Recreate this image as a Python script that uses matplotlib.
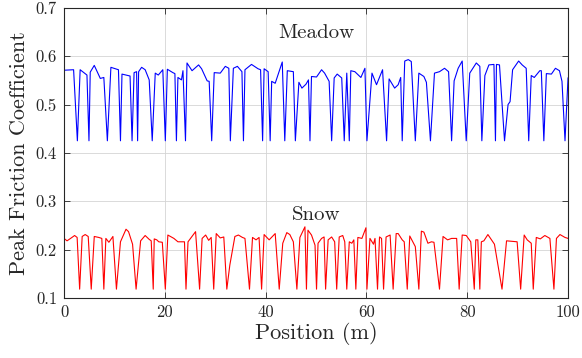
import matplotlib
matplotlib.use('Agg')
import matplotlib.pyplot as plt
import numpy as np

plt.rcParams['font.family'] = ['cmr10', 'DejaVu Serif']
plt.rcParams['mathtext.fontset'] = 'cm'
plt.rcParams['axes.unicode_minus'] = False
plt.rcParams['axes.formatter.use_mathtext'] = True

# meadow trace (position m, peak friction coefficient)
meadow_x = [0, 1.9, 2.65, 3.2, 4.55, 4.95, 5.2, 6.0, 7.2, 7.9, 8.6, 9.3, 10.8, 11.2, 11.5,
            13.1, 13.5, 13.9, 14.4, 14.6, 14.8, 15.4, 16.1, 16.9, 17.5, 18.1, 18.7, 19.6,
            20.1, 20.5, 21.6, 22.0, 22.3, 22.6, 23.3, 23.6, 24.1, 24.4, 25.4, 26.7, 27.3,
            28.4, 28.8, 29.3, 29.8, 31.0, 32.0, 32.7, 33.0, 33.6, 34.4, 35.3, 35.6, 35.9,
            37.2, 38.5, 39.0, 39.4, 39.7, 40.5, 40.9, 41.2, 41.9, 43.3, 43.8, 44.3, 45.5,
            45.9, 46.6, 47.2, 48.0, 48.5, 48.8, 49.1, 50.1, 51.1, 51.7, 52.6, 53.1, 53.6,
            54.2, 55.1, 55.6, 56.1, 56.6, 56.9, 57.7, 58.9, 59.7, 60.1, 61.1, 62.0, 63.2,
            64.0, 64.5, 65.6, 66.3, 66.8, 67.1, 67.6, 68.3, 68.9, 69.7, 70.4, 71.4, 71.9,
            72.7, 73.5, 74.5, 75.5, 76.3, 76.9, 77.4, 78.2, 79.0, 79.8, 80.5, 81.8, 82.5,
            82.9, 83.5, 84.3, 85.3, 85.6, 85.8, 86.4, 87.4, 88.1, 88.5, 89.0, 90.2, 90.9,
            91.7, 92.2, 92.7, 93.3, 94.4, 94.7, 95.2, 95.7, 96.7, 97.5, 98.3, 98.8, 99.4, 100.0]
meadow_y = [0.571, 0.572, 0.425, 0.572, 0.561, 0.425, 0.567, 0.581, 0.554, 0.556, 0.425, 0.577, 0.572, 0.425, 0.563,
            0.559, 0.425, 0.566, 0.568, 0.425, 0.568, 0.577, 0.572, 0.551, 0.425, 0.565, 0.561, 0.572,
            0.425, 0.573, 0.566, 0.564, 0.425, 0.556, 0.551, 0.570, 0.425, 0.586, 0.570, 0.582, 0.574,
            0.549, 0.548, 0.425, 0.566, 0.565, 0.579, 0.575, 0.425, 0.575, 0.579, 0.568, 0.425, 0.572,
            0.583, 0.574, 0.572, 0.425, 0.574, 0.568, 0.425, 0.548, 0.544, 0.588, 0.425, 0.570, 0.568,
            0.425, 0.546, 0.534, 0.542, 0.551, 0.425, 0.558, 0.557, 0.572, 0.565, 0.548, 0.425, 0.555,
            0.563, 0.555, 0.425, 0.565, 0.425, 0.570, 0.568, 0.556, 0.575, 0.425, 0.565, 0.541, 0.572,
            0.425, 0.553, 0.534, 0.541, 0.556, 0.425, 0.590, 0.593, 0.589, 0.425, 0.565, 0.558, 0.546,
            0.425, 0.565, 0.568, 0.575, 0.568, 0.425, 0.549, 0.575, 0.590, 0.425, 0.565, 0.586, 0.579,
            0.425, 0.560, 0.582, 0.583, 0.425, 0.583, 0.582, 0.425, 0.500, 0.506, 0.572, 0.590, 0.582,
            0.575, 0.425, 0.560, 0.556, 0.570, 0.570, 0.425, 0.564, 0.563, 0.575, 0.570, 0.548, 0.425, 0.555]

# snow trace
snow_x = [0, 0.6, 1.3, 2.1, 2.6, 3.1, 3.6, 4.2, 4.8, 5.4, 6.0, 6.9, 7.5, 7.9, 8.3, 8.9, 9.7,
          10.4, 11.2, 12.3, 12.8, 13.6, 14.3, 15.2, 16.1, 16.9, 17.3, 17.7, 17.9, 18.4, 18.8,
          19.5, 20.1, 20.6, 21.8, 22.6, 23.9, 24.2, 24.6, 25.4, 26.1, 26.9, 27.4, 28.1, 28.7,
          29.2, 29.7, 30.2, 31.0, 31.7, 32.3, 32.9, 33.9, 34.6, 35.4, 35.9, 36.8, 37.4, 38.1,
          38.7, 39.2, 39.7, 40.7, 41.9, 42.7, 43.4, 44.2, 44.8, 45.5, 46.2, 46.8, 47.8, 48.1,
          48.4, 49.1, 49.8, 50.1, 50.4, 51.1, 51.6, 51.9, 52.4, 53.1, 53.7, 54.1, 54.6, 55.3,
          55.7, 56.1, 56.6, 57.1, 57.5, 57.9, 58.3, 59.1, 59.9, 60.1, 60.7, 61.4, 61.7, 62.2,
          62.6, 63.0, 63.4, 63.9, 64.7, 65.3, 65.9, 66.3, 67.1, 67.5, 68.1, 68.6, 69.7, 70.4,
          70.9, 71.4, 72.2, 72.9, 73.4, 74.5, 75.2, 76.1, 76.9, 77.9, 78.4, 79.0, 79.8, 80.7,
          81.4, 81.7, 82.1, 82.5, 82.8, 83.3, 84.1, 85.4, 86.9, 87.8, 89.9, 90.6, 91.3, 91.9,
          92.7, 93.1, 93.7, 94.5, 95.4, 96.4, 97.2, 97.7, 98.4, 99.4, 100.0]
snow_y = [0.223, 0.218, 0.223, 0.229, 0.225, 0.118, 0.227, 0.231, 0.227, 0.118, 0.227, 0.225, 0.223, 0.118, 0.223, 0.215, 0.227,
          0.118, 0.216, 0.242, 0.237, 0.211, 0.118, 0.218, 0.229, 0.221, 0.218, 0.118, 0.222, 0.220, 0.216,
          0.215, 0.118, 0.230, 0.223, 0.216, 0.216, 0.118, 0.216, 0.227, 0.237, 0.118, 0.223, 0.230, 0.219,
          0.225, 0.118, 0.233, 0.224, 0.226, 0.118, 0.168, 0.227, 0.230, 0.225, 0.223, 0.118, 0.225, 0.220,
          0.225, 0.118, 0.231, 0.220, 0.233, 0.118, 0.213, 0.235, 0.231, 0.216, 0.118, 0.225, 0.247, 0.118,
          0.240, 0.230, 0.209, 0.118, 0.213, 0.223, 0.226, 0.118, 0.220, 0.226, 0.216, 0.118, 0.226, 0.229,
          0.216, 0.118, 0.216, 0.213, 0.220, 0.118, 0.225, 0.223, 0.245, 0.118, 0.223, 0.211, 0.223, 0.118,
          0.226, 0.223, 0.118, 0.226, 0.230, 0.118, 0.233, 0.233, 0.220, 0.216, 0.118, 0.228, 0.206, 0.118,
          0.238, 0.236, 0.213, 0.216, 0.215, 0.118, 0.227, 0.220, 0.223, 0.223, 0.118, 0.230, 0.229, 0.216,
          0.118, 0.220, 0.220, 0.118, 0.216, 0.218, 0.231, 0.211, 0.118, 0.218, 0.216, 0.118, 0.230, 0.220,
          0.213, 0.118, 0.225, 0.222, 0.229, 0.223, 0.118, 0.223, 0.231, 0.225, 0.223]

xticks = [0, 20, 40, 60, 80, 100]
yticks = [0.1, 0.2, 0.3, 0.4, 0.5, 0.6, 0.7]

fig = plt.figure(figsize=(5.82, 3.58), dpi=100)
ax = fig.add_axes([0.110, 0.168, 0.866, 0.810])

ax.plot(meadow_x, meadow_y, color='b', lw=0.8)
ax.plot(snow_x, snow_y, color='r', lw=0.8)

ax.text(50, 0.648, 'Meadow', ha='center', va='center', fontsize=15, color='#262626')
ax.text(50, 0.271, 'Snow', ha='center', va='center', fontsize=15, color='#262626')

ax.set_xlim(0, 100)
ax.set_ylim(0.1, 0.7)
ax.set_xticks(xticks)
ax.set_yticks(yticks)
ax.set_xticklabels([str(t) for t in xticks])
ax.set_yticklabels(['%.1f' % t for t in yticks])
ax.tick_params(direction='in', length=4, width=0.6, labelsize=12, top=True, right=True, pad=5,
               colors='#262626')
ax.grid(True, color='#d4d4d4', lw=0.6)
ax.set_axisbelow(True)
for s in ax.spines.values():
    s.set_linewidth(0.8)
    s.set_color('#262626')

ax.set_xlabel('Position (m)', fontsize=16, labelpad=1, color='#262626')
ax.set_ylabel('Peak Friction Coefficient', fontsize=16, labelpad=5, color='#262626')

plt.savefig('out.png', dpi=100)
